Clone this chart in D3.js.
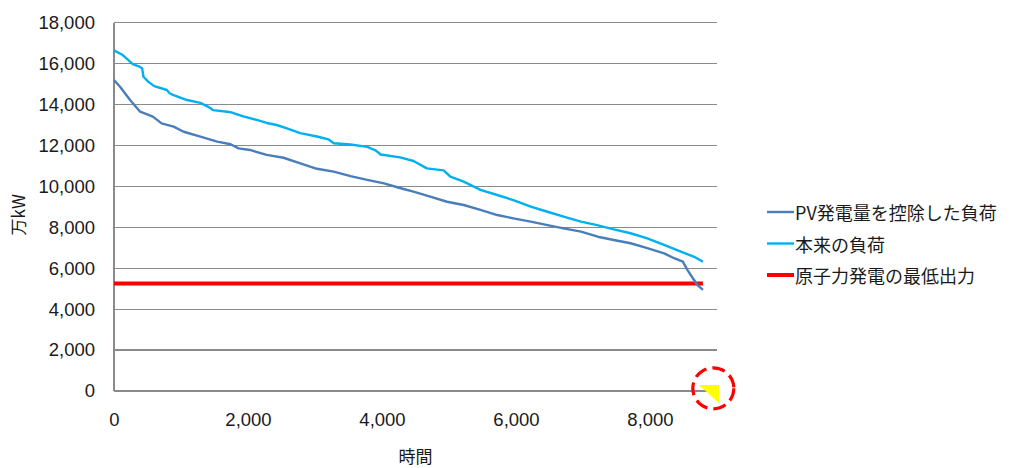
<!DOCTYPE html>
<html>
<head>
<meta charset="utf-8">
<script src="https://cdn.jsdelivr.net/npm/d3@7"></script>
<style>
  html, body { margin: 0; padding: 0; background: #fff; }
  svg { display: block; }
  .num { font-family: "Liberation Sans", Arial, sans-serif; font-size: 18.5px; fill: #1a1a1a; }
  .jp { font-family: "Noto Sans CJK JP", sans-serif; fill: #1a1a1a; }
</style>
</head>
<body>
<svg id="chart" width="1015" height="468"></svg>
<script>
// Load duration curves (hours sorted by load, 万kW)
const hoursNet = [0, 90, 240, 390, 580, 710, 890, 1040, 1290, 1540, 1740, 1860, 2030, 2280, 2530, 2780, 3030, 3280, 3530, 3780, 4030, 4280, 4470, 4720, 4970, 5220, 5470, 5720, 5960, 6220, 6470, 6710, 6970, 7220, 7460, 7710, 7960, 8210, 8360, 8490, 8560, 8640, 8710, 8790];
const netLoad = [15200, 14870, 14220, 13650, 13410, 13080, 12920, 12670, 12430, 12190, 12060, 11860, 11780, 11540, 11400, 11120, 10860, 10720, 10500, 10320, 10150, 9910, 9740, 9500, 9250, 9090, 8850, 8600, 8440, 8280, 8110, 7950, 7790, 7540, 7380, 7220, 6980, 6730, 6490, 6320, 5910, 5510, 5180, 4940];

const hoursBase = [0, 130, 210, 280, 380, 420, 440, 510, 600, 790, 830, 880, 960, 1090, 1290, 1400, 1480, 1690, 1750, 1930, 2130, 2280, 2430, 2580, 2780, 3030, 3200, 3280, 3530, 3780, 3910, 3980, 4270, 4470, 4670, 4920, 5020, 5220, 5470, 5720, 5960, 6220, 6470, 6710, 6970, 7210, 7460, 7710, 7960, 8210, 8460, 8660, 8790];
const baseLoad = [16650, 16420, 16180, 15980, 15850, 15770, 15360, 15120, 14900, 14710, 14550, 14470, 14380, 14220, 14080, 13900, 13730, 13650, 13620, 13420, 13250, 13100, 13000, 12840, 12600, 12440, 12300, 12110, 12050, 11930, 11750, 11560, 11420, 11240, 10880, 10780, 10480, 10230, 9830, 9580, 9330, 9010, 8760, 8520, 8280, 8110, 7900, 7710, 7460, 7140, 6810, 6560, 6320];

// Nuclear minimum output, flat over the year
const nuclearHours = [0, 8790];
const nuclearMin = [5250, 5250];

const xTicks = [0, 2000, 4000, 6000, 8000];
const yTicks = [0, 2000, 4000, 6000, 8000, 10000, 12000, 14000, 16000, 18000];

const seriesNames = ["PV発電量を控除した負荷", "本来の負荷", "原子力発電の最低出力"];
const seriesColors = ["#4a7ebb", "#00b0f0", "#ff0000"];

// Highlight marker near the end of the year (hours, 万kW)
const highlightTri = [[8730, 290], [9030, 290], [9030, -590]];
const highlightCenter = [8945, 130];

const svg = d3.select("#chart");
const x = d3.scaleLinear().domain([0, 9000]).range([114, 717]);
const y = d3.scaleLinear().domain([0, 18000]).range([391, 22.7]);

// Gridlines
svg.append("g")
  .selectAll("line")
  .data(yTicks)
  .join("line")
  .attr("x1", x(0)).attr("x2", x(9000))
  .attr("y1", d => y(d)).attr("y2", d => y(d))
  .attr("stroke", "#8a8a8a").attr("stroke-width", 1.2)
  .attr("shape-rendering", "crispEdges");

// Vertical axis line
svg.append("line")
  .attr("x1", x(0)).attr("x2", x(0))
  .attr("y1", y(18000)).attr("y2", y(0))
  .attr("stroke", "#8a8a8a").attr("stroke-width", 1.2)
  .attr("shape-rendering", "crispEdges");

// Y axis labels
const yAxis = d3.axisLeft(y).tickValues(yTicks).tickSize(0).tickPadding(19)
  .tickFormat(d3.format(","));
const gy = svg.append("g").attr("transform", `translate(${x(0)},0)`).call(yAxis);
gy.select(".domain").remove();
gy.selectAll("text").attr("class", "num").attr("font-size", null).attr("font-family", null);

// X axis labels
const xAxis = d3.axisBottom(x).tickValues(xTicks).tickSize(0).tickPadding(22)
  .tickFormat(d3.format(","));
const gx = svg.append("g").attr("transform", `translate(0,${y(0)})`).call(xAxis);
gx.select(".domain").remove();
gx.selectAll("text").attr("class", "num").attr("font-size", null).attr("font-family", null);

// Axis titles
svg.append("text").attr("class", "jp")
  .attr("x", (x(0) + x(9000)) / 2).attr("y", 455)
  .attr("text-anchor", "middle").attr("dominant-baseline", "central")
  .attr("font-size", 17)
  .text("時間");
svg.append("text").attr("class", "jp")
  .attr("transform", `translate(25,${(y(0) + y(18000)) / 2 + 8}) rotate(-90)`)
  .attr("text-anchor", "middle").attr("font-size", 17)
  .text("万kW");

const line = d3.line().x(d => x(d[0])).y(d => y(d[1]));

// Series
svg.append("path")
  .datum(d3.zip(nuclearHours, nuclearMin))
  .attr("d", line).attr("fill", "none")
  .attr("stroke", seriesColors[2]).attr("stroke-width", 4);

svg.append("path")
  .datum(d3.zip(hoursBase, baseLoad))
  .attr("d", line).attr("fill", "none")
  .attr("stroke", seriesColors[1]).attr("stroke-width", 2.4)
  .attr("stroke-linejoin", "round");

svg.append("path")
  .datum(d3.zip(hoursNet, netLoad))
  .attr("d", line).attr("fill", "none")
  .attr("stroke", seriesColors[0]).attr("stroke-width", 2.4)
  .attr("stroke-linejoin", "round");

// Highlight marker
svg.append("path")
  .attr("d", "M" + highlightTri.map(p => [x(p[0]), y(p[1])].join(",")).join("L") + "Z")
  .attr("fill", "#ffff00");
svg.append("circle")
  .attr("cx", x(highlightCenter[0])).attr("cy", y(highlightCenter[1]))
  .attr("r", 20.5)
  .attr("fill", "none").attr("stroke", "#ff0000").attr("stroke-width", 3.2)
  .attr("stroke-dasharray", "13,6");

// Legend
const legendRows = [212, 243.5, 275];
const lg = svg.append("g");
seriesNames.forEach((name, i) => {
  lg.append("line")
    .attr("x1", 767).attr("x2", 794)
    .attr("y1", legendRows[i]).attr("y2", legendRows[i])
    .attr("stroke", seriesColors[i]).attr("stroke-width", i === 2 ? 4 : 2.4);
  lg.append("text").attr("class", "jp")
    .attr("x", 795).attr("y", legendRows[i])
    .attr("dominant-baseline", "central")
    .attr("font-size", 18)
    .text(name);
});
</script>
</body>
</html>
